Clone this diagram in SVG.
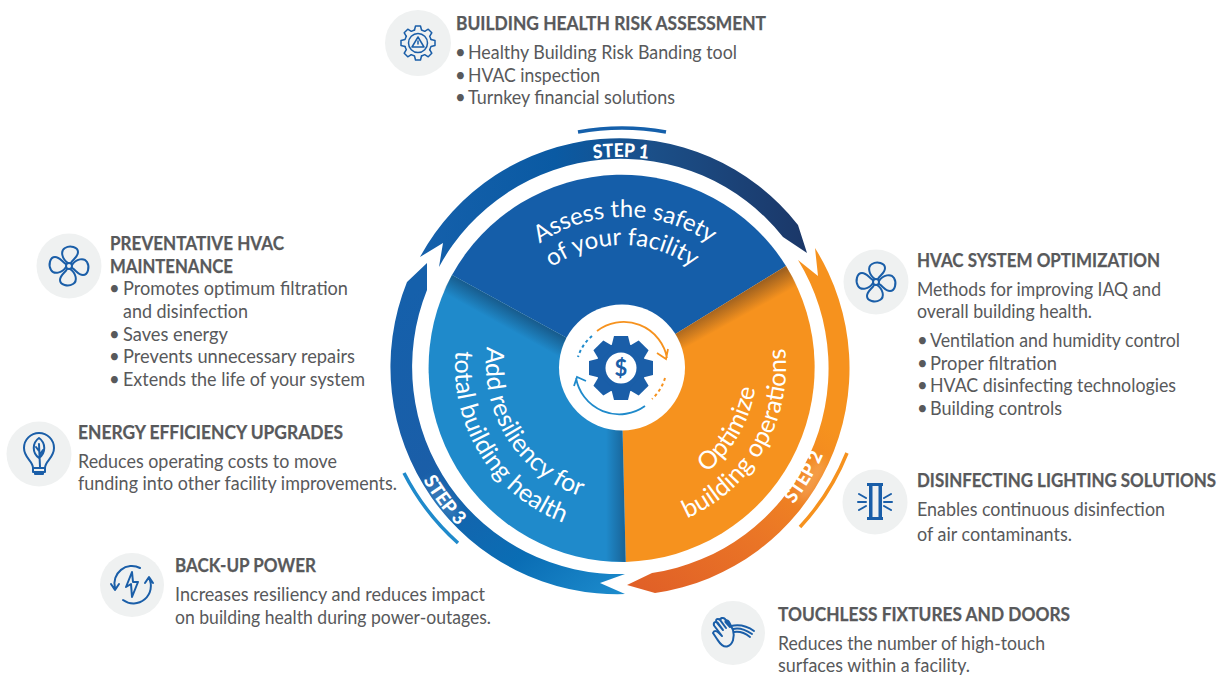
<svg xmlns="http://www.w3.org/2000/svg" width="1221" height="675" viewBox="0 0 1221 675">
<style>
text{font-family:Lato,"Liberation Sans",sans-serif}
.h{font-size:19.5px;font-weight:700;fill:#58595b;stroke:#58595b;stroke-width:.25}
.b{font-size:18.5px;fill:#58595b}
.s{font-size:25px;fill:#fff}
.s2{font-size:24px;fill:#fff}
.st{font-size:19px;font-weight:900;fill:#fff}
.bg{fill:#eff1f1}
.i{fill:none;stroke:#1a5ea8;stroke-width:2;stroke-linecap:round;stroke-linejoin:round}
.t{fill:none;stroke:#1a5ea8;stroke-width:1.5;stroke-linecap:round;stroke-linejoin:round}
</style>
<defs>
<linearGradient id="g1" gradientUnits="userSpaceOnUse" x1="420" y1="250" x2="807" y2="250"><stop offset="0" stop-color="#1560ab"/><stop offset=".35" stop-color="#0a5aa3"/><stop offset=".6" stop-color="#1b4f88"/><stop offset="1" stop-color="#1b3768"/></linearGradient>
<linearGradient id="g2" gradientUnits="userSpaceOnUse" x1="640" y1="595" x2="835" y2="330"><stop offset="0" stop-color="#e05f27"/><stop offset=".35" stop-color="#ea7526"/><stop offset=".75" stop-color="#f6921e"/><stop offset="1" stop-color="#f6921e"/></linearGradient>
<linearGradient id="g3" gradientUnits="userSpaceOnUse" x1="625" y1="594" x2="400" y2="300"><stop offset="0" stop-color="#1d8ccd"/><stop offset=".25" stop-color="#0a6db4"/><stop offset=".6" stop-color="#1a5ea8"/><stop offset="1" stop-color="#1560ab"/></linearGradient>
<linearGradient id="sa" gradientUnits="userSpaceOnUse" x1="735" y1="297" x2="745" y2="315"><stop offset="0" stop-color="#5a3a20" stop-opacity=".55"/><stop offset="1" stop-color="#5a3a20" stop-opacity="0"/></linearGradient>
<linearGradient id="sb" gradientUnits="userSpaceOnUse" x1="515" y1="309" x2="505" y2="327"><stop offset="0" stop-color="#123a60" stop-opacity=".6"/><stop offset="1" stop-color="#123a60" stop-opacity="0"/></linearGradient>
<linearGradient id="sc" gradientUnits="userSpaceOnUse" x1="624" y1="500" x2="606" y2="500"><stop offset="0" stop-color="#123a60" stop-opacity=".45"/><stop offset="1" stop-color="#123a60" stop-opacity="0"/></linearGradient>
<filter id="blur" x="-50%" y="-50%" width="200%" height="200%"><feGaussianBlur stdDeviation="5"/></filter>
<path id="pS1" d="M475,367 A150 150 0 0 1 775,367"/>
<path id="pS1b" d="M500,367 A122 122 0 0 1 744,367"/>
<path id="pO1" d="M553,484.8 A136 136 0 0 0 689,249.2"/>
<path id="pO2" d="M538.5,510 A165 165 0 0 0 703.5,224"/>
<path id="pB1" d="M547.9,250 A138 138 0 0 0 694.1,484"/>
<path id="pB2" d="M533,226.2 A166 166 0 0 0 709,507.8"/>
<path id="t1" d="M411,367 A210 210 0 0 1 831,367"/>
<path id="t2" d="M503.6,562.3 A228 228 0 0 0 738.4,171.7"/>
<path id="t3" d="M483.8,184.9 A228 228 0 0 0 758.2,549.1"/>
<g id="fan">
<path id="pt" class="i" d="M-1,-3 C-7,-7 -9,-15 -4,-18 C1,-21 9,-19 9,-14 C9,-9 4,-7 2,-3"/>
<use href="#pt" transform="rotate(90)"/><use href="#pt" transform="rotate(180)"/><use href="#pt" transform="rotate(270)"/>
<circle class="i" r="3"/>
</g>
<polygon id="tooth" points="-7,-32 7,-32 10,-20 -10,-20" fill="#1a5ea8"/>
<path id="ot" class="t" d="M-3.5,-13 L-2.5,-17 L2.5,-17 L3.5,-13 L6.72,-11.67"/>
</defs>

<g id="connectors">
<path fill="url(#g1)" d="M420,257 A227 227 0 0 1 798,225 L807,253 L783,237 A207 207 0 0 0 439,267 L443,243 Z"/>
<path fill="url(#g2)" d="M815,248 A227 227 0 0 1 655,593 L627,585 L652,573 A207 207 0 0 0 798,260 L818,276 Z"/>
<path fill="url(#g3)" d="M625,594 A227 227 0 0 1 407,282 L427,263 L427,290 A207 207 0 0 0 625,574 L600,583 Z"/>
<path fill="none" stroke="#1560ab" stroke-width="3.5" d="M578,132 A240 240 0 0 1 666,132"/>
<path fill="none" stroke="#f6921e" stroke-width="3.5" d="M800,527 A241 241 0 0 0 847,453"/>
<path fill="none" stroke="#1f8acb" stroke-width="3.5" d="M404,473 A241 241 0 0 0 458,543"/>
<ellipse cx="812" cy="480" rx="8" ry="24" transform="rotate(30 812 480)" fill="#fff" opacity=".18" filter="url(#blur)"/>
<ellipse cx="442" cy="500" rx="8" ry="24" transform="rotate(-37 442 500)" fill="#fff" opacity=".15" filter="url(#blur)"/>
<text class="st"><textPath href="#t1" startOffset="50%" text-anchor="middle" textLength="55" lengthAdjust="spacingAndGlyphs">STEP 1</textPath></text>
<text class="st"><textPath href="#t2" startOffset="50%" text-anchor="middle" textLength="58" lengthAdjust="spacingAndGlyphs">STEP 2</textPath></text>
<text class="st"><textPath href="#t3" startOffset="50%" text-anchor="middle" textLength="58" lengthAdjust="spacingAndGlyphs">STEP 3</textPath></text>
</g>

<g id="wheel">
<path id="sector-blue" fill="#155ea9" d="M621,367.5 L786,266 A193.7 193.7 0 0 0 452,275 Z"/>
<path id="sector-orange" fill="#f6921e" d="M621,367.5 L625.7,562 A194.5 194.5 0 0 0 786,266 Z"/>
<path id="sector-light" fill="#1f8acb" d="M621,367.5 L452,275 A194.5 194.5 0 0 0 625.7,562 Z"/>
<path fill="url(#sa)" d="M621,367.5 L786,266 L800,290 L640,385 Z"/>
<path fill="url(#sb)" d="M621,367.5 L452,275 L440,297 L600,385 Z"/>
<path fill="url(#sc)" d="M621,367.5 L625.7,562 L600,560 L600,380 Z"/>
<text class="s2"><textPath href="#pS1" startOffset="50%" text-anchor="middle">Assess the safety</textPath></text>
<text class="s2"><textPath href="#pS1b" startOffset="50%" text-anchor="middle">of your facility</textPath></text>
<text class="s"><textPath href="#pO1" startOffset="50%" text-anchor="middle">Optimize</textPath></text>
<text class="s"><textPath href="#pO2" startOffset="50%" text-anchor="middle">building operations</textPath></text>
<text class="s"><textPath href="#pB1" startOffset="50%" text-anchor="middle">Add resiliency for</textPath></text>
<text class="s"><textPath href="#pB2" startOffset="50%" text-anchor="middle">total building health</textPath></text>
</g>

<g id="hub">
<circle cx="622" cy="367.5" r="63" fill="#fff"/>
<g transform="translate(621 368)">
<circle r="25" fill="#1a5ea8"/>
<use href="#tooth"/><use href="#tooth" transform="rotate(45)"/><use href="#tooth" transform="rotate(90)"/><use href="#tooth" transform="rotate(135)"/><use href="#tooth" transform="rotate(180)"/><use href="#tooth" transform="rotate(225)"/><use href="#tooth" transform="rotate(270)"/><use href="#tooth" transform="rotate(315)"/>
<circle r="15.5" fill="#fff"/>
</g>
<text x="621" y="375.500" text-anchor="middle" font-size="22" font-weight="700" fill="#1a5ea8">$</text>
<g fill="none" stroke-width="1.8">
<path stroke="#f6921e" d="M597,331 A44 44 0 0 1 667,358 M657,353 L666,359 L668,349"/>
<path stroke="#1f8acb" d="M645,406 A44 44 0 0 1 576,378 M574,386 L577,377 L586,381"/>
<path stroke="#1f8acb" stroke-dasharray="3 3" stroke-width="2" d="M592,336 A44 44 0 0 0 578,357"/>
<path stroke="#f6921e" stroke-dasharray="3 3" stroke-width="2" d="M665,378 A46 46 0 0 1 652,399"/>
</g>
</g>

<g id="node-risk">
<circle class="bg" cx="418" cy="43" r="33"/>
<g transform="translate(418 43)">
<use href="#ot"/><use href="#ot" transform="rotate(45)"/><use href="#ot" transform="rotate(90)"/><use href="#ot" transform="rotate(135)"/><use href="#ot" transform="rotate(180)"/><use href="#ot" transform="rotate(225)"/><use href="#ot" transform="rotate(270)"/><use href="#ot" transform="rotate(315)"/>
<circle class="t" r="9.5"/>
<path class="t" stroke-width="1.3" d="M0,-6 L6,4 L-6,4 Z M0,-2 L0,1"/>
</g>
<text class="h" x="456" y="30" textLength="310" lengthAdjust="spacingAndGlyphs">BUILDING HEALTH RISK ASSESSMENT</text>
<text class="b" y="59"><tspan x="455">•</tspan><tspan x="468" textLength="269" lengthAdjust="spacingAndGlyphs">Healthy Building Risk Banding tool</tspan></text>
<text class="b" y="82"><tspan x="455">•</tspan><tspan x="468" textLength="132" lengthAdjust="spacingAndGlyphs">HVAC inspection</tspan></text>
<text class="b" y="104"><tspan x="455">•</tspan><tspan x="468" textLength="207" lengthAdjust="spacingAndGlyphs">Turnkey financial solutions</tspan></text>
</g>

<g id="node-maintenance">
<circle class="bg" cx="69" cy="266" r="32.5"/>
<use href="#fan" transform="translate(69 266)"/>
<text class="h" x="110" y="250" textLength="174" lengthAdjust="spacingAndGlyphs">PREVENTATIVE HVAC</text>
<text class="h" x="110" y="273" textLength="123" lengthAdjust="spacingAndGlyphs">MAINTENANCE</text>
<text class="b" y="295"><tspan x="109">•</tspan><tspan x="123" textLength="225" lengthAdjust="spacingAndGlyphs">Promotes optimum filtration</tspan></text>
<text class="b" x="123" y="318" textLength="125" lengthAdjust="spacingAndGlyphs">and disinfection</text>
<text class="b" y="341"><tspan x="109">•</tspan><tspan x="123" textLength="105" lengthAdjust="spacingAndGlyphs">Saves energy</tspan></text>
<text class="b" y="363"><tspan x="109">•</tspan><tspan x="123" textLength="232" lengthAdjust="spacingAndGlyphs">Prevents unnecessary repairs</tspan></text>
<text class="b" y="386"><tspan x="109">•</tspan><tspan x="123" textLength="242" lengthAdjust="spacingAndGlyphs">Extends the life of your system</tspan></text>
</g>

<g id="node-energy">
<circle class="bg" cx="39" cy="454" r="32.5"/>
<path class="i" d="M33,468 C33,461 24,458 24,448 A15 15 0 0 1 54,448 C54,458 45,461 45,468 Z M33,468 V472 H45 V468 M35,472 V474 H43 V472"/>
<path class="i" stroke-width="1.5" d="M39,438 C46,443 46,453 39,458 C32,453 32,443 39,438 Z M39,444 L40,467 M39.500,455 L43,450 M39,451 L36,447"/>
<text class="h" x="78" y="439" textLength="265" lengthAdjust="spacingAndGlyphs">ENERGY EFFICIENCY UPGRADES</text>
<text class="b" x="78" y="468" textLength="259" lengthAdjust="spacingAndGlyphs">Reduces operating costs to move</text>
<text class="b" x="78" y="490" textLength="319" lengthAdjust="spacingAndGlyphs">funding into other facility improvements.</text>
</g>

<g id="node-backup">
<circle class="bg" cx="132" cy="585" r="32"/>
<path class="i" stroke-width="1.7" d="M140,568 A17.500 17.500 0 0 0 115,588 M111,584 L115,590 L119,584 M123,600 A17.500 17.500 0 0 0 149,578 M145,583 L149,577 L153,583"/>
<path class="i" stroke-width="1.7" d="M132,572 L126,587 L131,584 L132,597 L138,582 L133,582 Z"/>
<text class="h" x="175" y="572" textLength="141" lengthAdjust="spacingAndGlyphs">BACK-UP POWER</text>
<text class="b" x="175" y="601" textLength="310" lengthAdjust="spacingAndGlyphs">Increases resiliency and reduces impact</text>
<text class="b" x="175" y="624" textLength="316" lengthAdjust="spacingAndGlyphs">on building health during power-outages.</text>
</g>

<g id="node-hvac">
<circle class="bg" cx="876" cy="282" r="32.5"/>
<use href="#fan" transform="translate(876 282)"/>
<text class="h" x="917" y="267" textLength="243" lengthAdjust="spacingAndGlyphs">HVAC SYSTEM OPTIMIZATION</text>
<text class="b" x="917" y="296" textLength="244" lengthAdjust="spacingAndGlyphs">Methods for improving IAQ and</text>
<text class="b" x="917" y="318" textLength="175" lengthAdjust="spacingAndGlyphs">overall building health.</text>
<text class="b" y="347"><tspan x="917">•</tspan><tspan x="930" textLength="250" lengthAdjust="spacingAndGlyphs">Ventilation and humidity control</tspan></text>
<text class="b" y="370"><tspan x="917">•</tspan><tspan x="930" textLength="127" lengthAdjust="spacingAndGlyphs">Proper filtration</tspan></text>
<text class="b" y="392"><tspan x="917">•</tspan><tspan x="930" textLength="246" lengthAdjust="spacingAndGlyphs">HVAC disinfecting technologies</tspan></text>
<text class="b" y="415"><tspan x="917">•</tspan><tspan x="930" textLength="132" lengthAdjust="spacingAndGlyphs">Building controls</tspan></text>
</g>

<g id="node-lighting">
<circle class="bg" cx="875" cy="502" r="32.5"/>
<path fill="#1a5ea8" d="M867,483 H883 V486 H867 Z M867,517 H883 V520 H867 Z M869,486 H872.500 V517 H869 Z M878.500,486 H882 V517 H878.500 Z"/>
<path class="i" stroke-width="1.6" d="M859,494 L866,498 M858,502 L866,502 M859,510 L866,506 M891,494 L884,498 M892,502 L884,502 M891,510 L884,506"/>
<text class="h" style="font-size:18px" x="917" y="487" textLength="299" lengthAdjust="spacingAndGlyphs">DISINFECTING LIGHTING SOLUTIONS</text>
<text class="b" x="917" y="516" textLength="248" lengthAdjust="spacingAndGlyphs">Enables continuous disinfection</text>
<text class="b" x="917" y="541" textLength="155" lengthAdjust="spacingAndGlyphs">of air contaminants.</text>
</g>

<g id="node-touchless">
<circle class="bg" cx="733" cy="633" r="32"/>
<path class="i" stroke-width="1.8" d="M713,633 C714,630 717,631 719,633 L722,636 L714,625.500 C713,622 716,621 718,623 L723,630 L716.500,622 C715,619 718,618 720,620 L726,628 L720.500,620.500 C720,618 723,617 725,619 L730,627 L725.500,622 C725,619.500 728,620 729,622 L733,630 C735,637 733,645 727,646.500 C722,647.500 719,642 717,639 Z"/>
<path class="i" stroke-width="1.6" d="M731,626 C740,624 747,626 754,631 M733,629 C740,627 746,630 752,634 M734,632 C740,631 745,633 750,637"/>
<text class="h" x="778" y="621" textLength="292" lengthAdjust="spacingAndGlyphs">TOUCHLESS FIXTURES AND DOORS</text>
<text class="b" x="778" y="650" textLength="267" lengthAdjust="spacingAndGlyphs">Reduces the number of high-touch</text>
<text class="b" x="778" y="672" textLength="192" lengthAdjust="spacingAndGlyphs">surfaces within a facility.</text>
</g>
</svg>
